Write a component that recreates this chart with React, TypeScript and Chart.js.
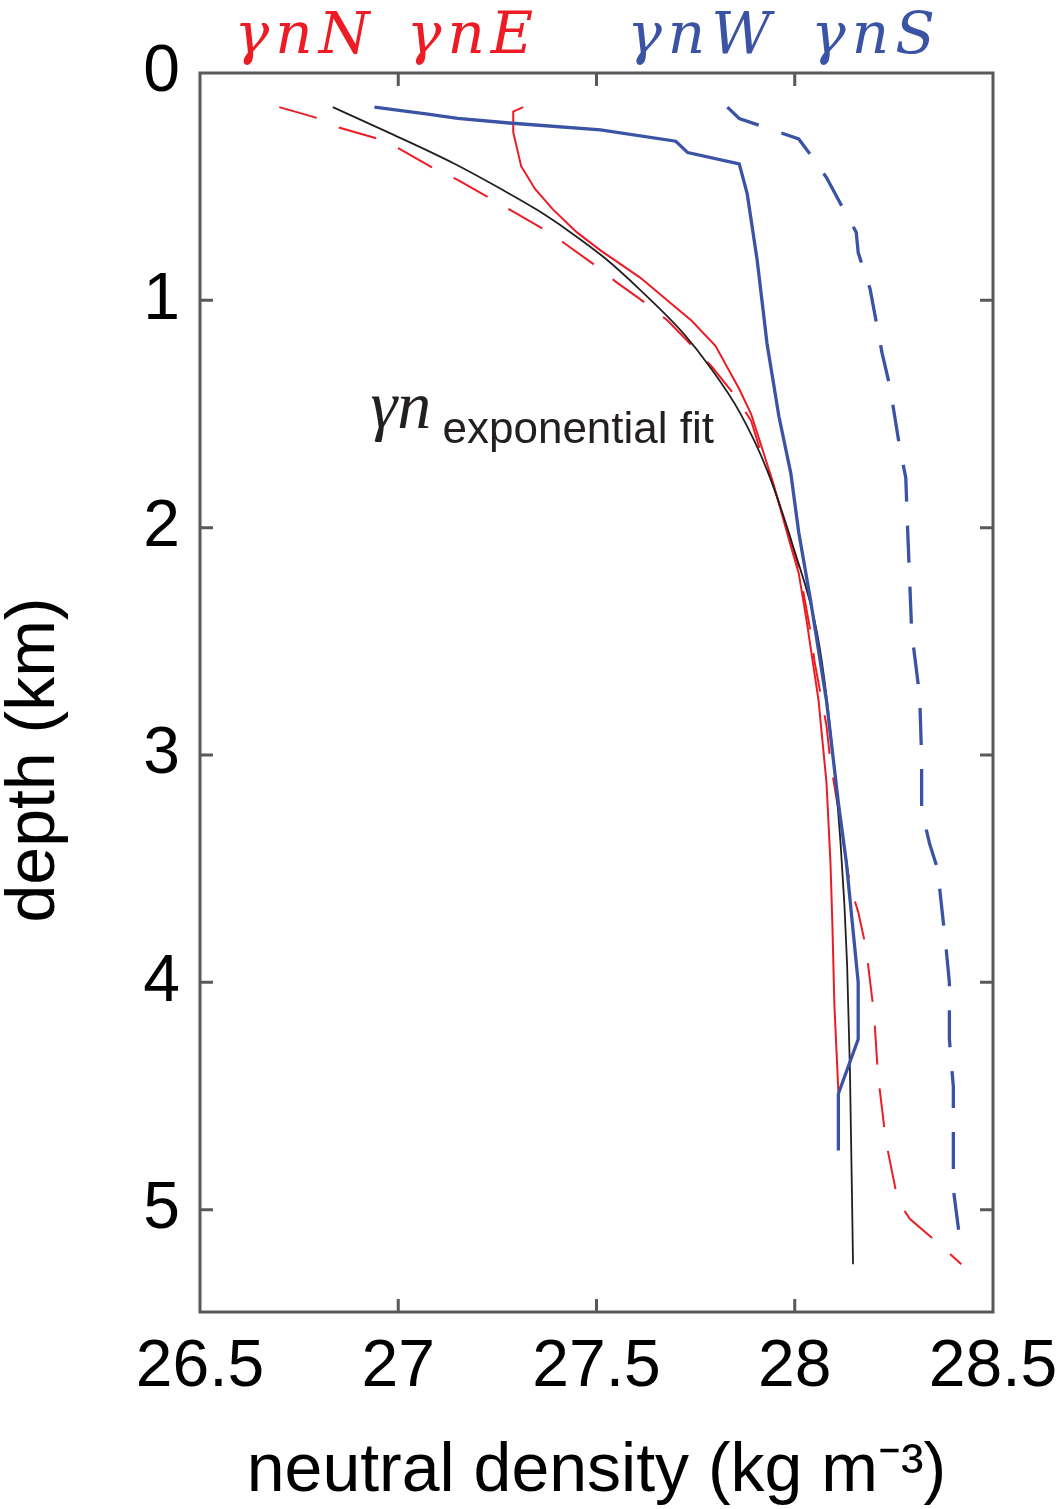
import { useEffect, useRef } from "react";
import { Chart, registerables } from "chart.js";

Chart.register(...registerables);

// axis ticks
const xTicks = [26.5, 27, 27.5, 28, 28.5];
const yTicks = [0, 1, 2, 3, 4, 5];

// gamma_n N (red, solid)
const northDensity = [27.315, 27.29, 27.29, 27.31, 27.345, 27.39, 27.45, 27.51, 27.61, 27.74, 27.8, 27.86, 27.89, 27.945, 27.99, 28.01, 28.03, 28.06, 28.08, 28.09, 28.095, 28.1, 28.11];
const northDepth = [0.15, 0.17, 0.26, 0.41, 0.51, 0.6, 0.7, 0.78, 0.9, 1.09, 1.2, 1.39, 1.5, 1.8, 2.08, 2.2, 2.41, 2.76, 3.12, 3.47, 3.75, 4.1, 4.48];

// gamma_n E (red, dashed)
const eastDensity = [26.7, 26.8, 26.85, 26.95, 27.0, 27.09, 27.15, 27.23, 27.29, 27.37, 27.42, 27.5, 27.55, 27.63, 27.68, 27.73, 27.79, 27.85, 27.89, 27.92, 27.94, 27.98, 28.01, 28.04, 28.05, 28.08, 28.09, 28.11, 28.14, 28.16, 28.18, 28.2, 28.21, 28.23, 28.26, 28.29, 28.37, 28.42];
const eastDepth = [0.15, 0.2, 0.24, 0.29, 0.33, 0.42, 0.47, 0.55, 0.61, 0.69, 0.75, 0.85, 0.92, 1.02, 1.09, 1.18, 1.29, 1.42, 1.53, 1.7, 1.78, 2.0, 2.17, 2.46, 2.59, 2.87, 3.03, 3.24, 3.58, 3.69, 3.85, 4.14, 4.41, 4.7, 4.96, 5.04, 5.16, 5.24];

// gamma_n W (blue, solid)
const westDensity = [26.94, 27.07, 27.15, 27.28, 27.51, 27.7, 27.73, 27.86, 27.88, 27.905, 27.92, 27.93, 27.96, 27.99, 28.01, 28.04, 28.08, 28.11, 28.13, 28.16, 28.16, 28.11, 28.11];
const westDepth = [0.15, 0.18, 0.2, 0.22, 0.25, 0.3, 0.35, 0.4, 0.53, 0.82, 1.04, 1.19, 1.51, 1.76, 2.02, 2.32, 2.76, 3.21, 3.47, 4.0, 4.25, 4.49, 4.74];

// gamma_n S (blue, dashed)
const southDensity = [27.83, 27.86, 27.91, 28.01, 28.04, 28.08, 28.12, 28.155, 28.16, 28.19, 28.22, 28.24, 28.265, 28.28, 28.285, 28.295, 28.315, 28.32, 28.32, 28.34, 28.36, 28.38, 28.39, 28.39, 28.4, 28.4, 28.4, 28.42];
const southDepth = [0.15, 0.2, 0.23, 0.29, 0.36, 0.46, 0.59, 0.7, 0.79, 0.95, 1.23, 1.38, 1.65, 1.78, 2.02, 2.46, 2.74, 3.01, 3.24, 3.39, 3.5, 3.82, 4.0, 4.25, 4.46, 4.64, 4.91, 5.18];

// exponential fit (black)
const fitDensity = [26.835, 26.972, 27.138, 27.264, 27.35, 27.433, 27.521, 27.61, 27.718, 27.786, 27.862, 27.93, 27.996, 28.056, 28.081, 28.114, 28.132, 28.139, 28.147];
const fitDepth = [0.15, 0.259, 0.396, 0.515, 0.602, 0.699, 0.814, 0.954, 1.143, 1.293, 1.495, 1.746, 2.084, 2.46, 2.757, 3.351, 3.92, 4.37, 5.24];

const RED = "#ED1C24";
const BLUE = "#3A53A4";
const BLACK = "#231F20";
const AXIS = "#58595B";

const toPoints = (xs: number[], ys: number[]) => xs.map((x, i) => ({ x, y: ys[i] }));

const framePlugin = {
  id: "frame",
  afterDatasetsDraw(chart: any) {
    const { ctx, chartArea, scales } = chart;
    const { left, right, top, bottom } = chartArea;
    ctx.save();
    ctx.strokeStyle = AXIS;
    ctx.lineWidth = 3;
    ctx.strokeRect(left, top, right - left, bottom - top);
    ctx.beginPath();
    scales.x.ticks.forEach((t: any) => {
      const px = scales.x.getPixelForValue(t.value);
      if (px <= left + 1 || px >= right - 1) return;
      ctx.moveTo(px, bottom);
      ctx.lineTo(px, bottom - 13);
      ctx.moveTo(px, top);
      ctx.lineTo(px, top + 13);
    });
    scales.y.ticks.forEach((t: any) => {
      const py = scales.y.getPixelForValue(t.value);
      if (py <= top + 1 || py >= bottom - 1) return;
      ctx.moveTo(left, py);
      ctx.lineTo(left + 13, py);
      ctx.moveTo(right, py);
      ctx.lineTo(right - 13, py);
    });
    ctx.stroke();
    ctx.restore();
  },
};

const labelPlugin = {
  id: "labels",
  afterDraw(chart: any) {
    const { ctx, scales } = chart;
    ctx.save();
    ctx.textBaseline = "alphabetic";
    ctx.textAlign = "center";
    ctx.font = 'italic 58px "DejaVu Serif"';
    (ctx as any).letterSpacing = "6px";
    ctx.fillStyle = RED;
    ctx.fillText("γnN", 305, 53);
    ctx.fillText("γnE", 473, 53);
    ctx.fillStyle = BLUE;
    ctx.fillText("γnW", 702, 53);
    ctx.fillText("γnS", 876, 53);
    (ctx as any).letterSpacing = "0px";

    // annotation for the fit
    const ax = scales.x.getPixelForValue(26.93);
    const ay = scales.y.getPixelForValue(1.56);
    ctx.textAlign = "left";
    ctx.fillStyle = BLACK;
    ctx.font = 'italic 68px "Liberation Serif"';
    ctx.fillText("γn", ax, ay);
    ctx.font = '44px "Liberation Sans"';
    ctx.fillText("exponential fit", ax + 72, ay + 15);

    // y-axis title
    ctx.fillStyle = "#000";
    ctx.font = '68px "Liberation Sans"';
    ctx.textAlign = "center";
    ctx.textBaseline = "middle";
    ctx.translate(35, 760);
    ctx.rotate(-Math.PI / 2);
    ctx.fillText("depth (km)", 0, 0);
    ctx.restore();
  },
};

export default function App() {
  const canvasRef = useRef<HTMLCanvasElement | null>(null);

  useEffect(() => {
    if (!canvasRef.current) return;
    const ctx = canvasRef.current.getContext("2d");
    if (!ctx) return;

    const chart = new Chart(ctx, {
      type: "line",
      data: {
        datasets: [
          {
            label: "γnW",
            data: toPoints(westDensity, westDepth),
            borderColor: BLUE,
            borderWidth: 3.3,
          },
          {
            label: "γnS",
            data: toPoints(southDensity, southDepth),
            borderColor: BLUE,
            borderWidth: 3.3,
            borderDash: [37, 24],
          },
          {
            label: "γn exponential fit",
            data: toPoints(fitDensity, fitDepth),
            borderColor: BLACK,
            borderWidth: 1.8,
            cubicInterpolationMode: "monotone",
          },
          {
            label: "γnN",
            data: toPoints(northDensity, northDepth),
            borderColor: RED,
            borderWidth: 2,
          },
          {
            label: "γnE",
            data: toPoints(eastDensity, eastDepth),
            borderColor: RED,
            borderWidth: 2,
            borderDash: [39, 24],
          },
        ],
      },
      options: {
        responsive: false,
        animation: false,
        devicePixelRatio: 1,
        layout: { padding: { top: 73, right: 70, left: 0, bottom: 0 } },
        elements: { point: { radius: 0 }, line: { fill: false } },
        plugins: {
          legend: { display: false },
          tooltip: { enabled: false },
        },
        scales: {
          x: {
            type: "linear",
            position: "bottom",
            min: 26.5,
            max: 28.5,
            afterBuildTicks: (s: any) => {
              s.ticks = xTicks.map((v) => ({ value: v }));
            },
            afterFit: (s: any) => {
              s.height = 197;
              s.paddingLeft = 0;
              s.paddingRight = 0;
            },
            grid: { display: false, drawTicks: false },
            border: { display: false },
            ticks: {
              color: "#000",
              font: { family: "Liberation Sans", size: 66 },
              padding: 16,
              maxRotation: 0,
              autoSkip: false,
              callback: (v: any) => String(v),
            },
            title: {
              display: true,
              text: "neutral density (kg m⁻³)",
              color: "#000",
              font: { family: "Liberation Sans", size: 68, lineHeight: 1 },
              padding: { top: 0, bottom: 3 },
            },
          },
          y: {
            type: "linear",
            reverse: true,
            min: 0,
            max: 5.45,
            afterBuildTicks: (s: any) => {
              s.ticks = yTicks.map((v) => ({ value: v }));
            },
            afterFit: (s: any) => {
              s.width = 200;
            },
            grid: { display: false, drawTicks: false },
            border: { display: false },
            ticks: {
              color: "#000",
              font: { family: "Liberation Sans", size: 66 },
              padding: 20,
              autoSkip: false,
              callback: (v: any) => String(v),
            },
            title: { display: false },
          },
        },
      },
      plugins: [framePlugin, labelPlugin],
    });

    return () => {
      chart.destroy();
    };
  }, []);

  return (
    <div style={{ position: "absolute", left: 0, top: 0, width: 1063, height: 1509, background: "#fff" }}>
      <canvas ref={canvasRef} width={1063} height={1509} style={{ display: "block" }} />
    </div>
  );
}
